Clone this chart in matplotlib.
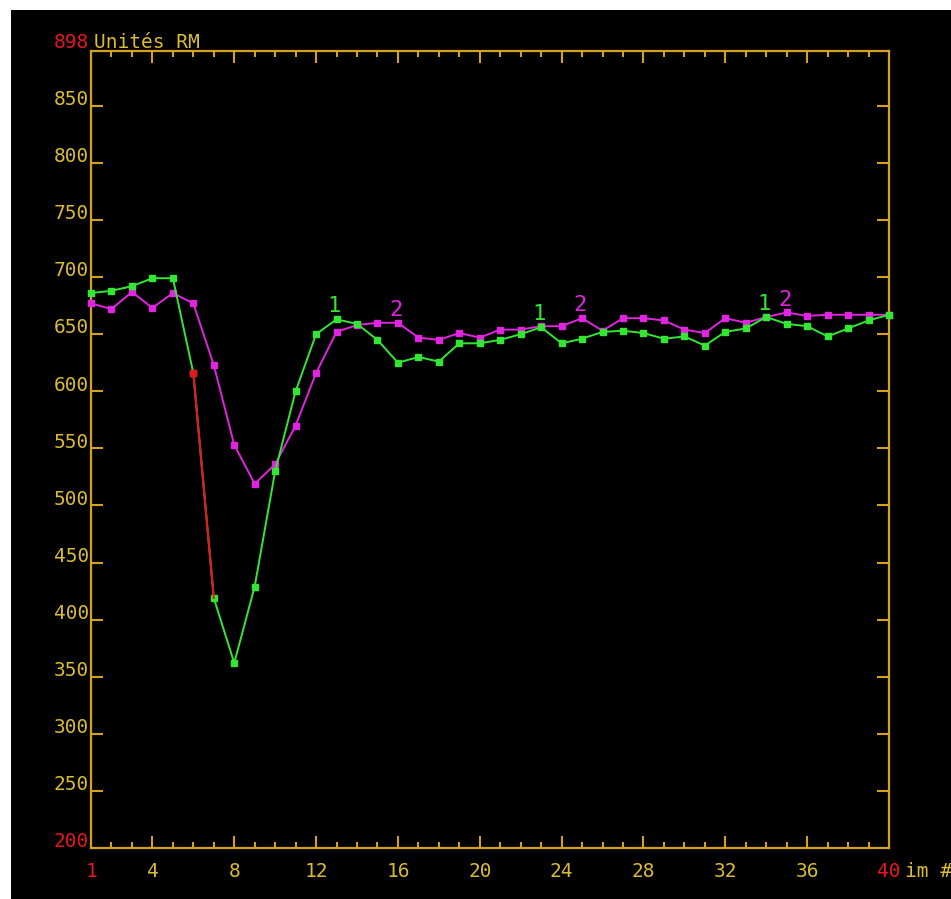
import matplotlib
matplotlib.use("Agg")
import matplotlib.pyplot as plt
from matplotlib.patches import Rectangle
import numpy as np

# ---- data ----
images = list(range(1, 41))
curve1 = [686, 688, 692, 699, 699, 616, 419, 362, 429, 530,
          600, 650, 663, 659, 645, 625, 630, 626, 642, 642,
          645, 650, 656, 642, 646, 652, 653, 651, 646, 648,
          640, 652, 655, 665, 659, 657, 648, 655, 662, 667]
curve2 = [677, 672, 687, 673, 686, 677, 623, 553, 519, 536,
          570, 616, 652, 658, 660, 660, 647, 645, 651, 647,
          654, 654, 657, 657, 664, 653, 664, 664, 662, 654,
          651, 664, 660, 665, 669, 666, 667, 667, 667, 667]
highlight_x = [6, 7]
label1_x = [13, 23, 34]
label2_x = [16, 25, 35]
yticks = [200, 250, 300, 350, 400, 450, 500, 550, 600, 650, 700, 750, 800, 850]
xticks_major = [4, 8, 12, 16, 20, 24, 28, 32, 36]
xmin, xmax = 1, 40
ymin, ymax = 200, 898
ylabel_txt = "Unités RM"
xlabel_txt = "im #"

# ---- style ----
AX = '#d6a21c'
TXT = '#d9bb34'
RED = '#e8141e'
GREEN = '#33e633'
MAG = '#e024e0'
FONT = 'DejaVu Sans Mono'
FS = 14

W, H = 951, 899
fig = plt.figure(figsize=(W / 100, H / 100), dpi=100, facecolor='white')
fig.patches.append(Rectangle((11 / W, 0), 1 - 11 / W, 1 - 10 / H,
                             transform=fig.transFigure, facecolor='black',
                             edgecolor='none', zorder=-10))

left, right, top, bottom = 91, 889, 51, 848
ax = fig.add_axes([left / W, (H - bottom) / H, (right - left) / W, (bottom - top) / H])
ax.set_facecolor('black')
ax.set_xlim(xmin, xmax)
ax.set_ylim(ymin, ymax)
for s in ax.spines.values():
    s.set_color(AX)
    s.set_linewidth(1.6)

minor = [i for i in range(2, 40) if i not in xticks_major]
ax.set_xticks(xticks_major)
ax.set_xticks(minor, minor=True)
ax.set_yticks([t for t in yticks if t > ymin])
ax.tick_params(axis='x', which='major', direction='in', length=8.5, width=1.5,
               color=AX, top=True, bottom=True, labelbottom=False)
ax.tick_params(axis='x', which='minor', direction='in', length=4.5, width=1.5,
               color=AX, top=True, bottom=True)
ax.tick_params(axis='y', which='major', direction='in', length=8.5, width=1.5,
               color=AX, left=True, right=True, labelleft=False)

# y tick labels (bottom of digits at tick value)
for v in yticks:
    col = RED if v == ymin else TXT
    ax.annotate(str(v), xy=(0, v), xycoords=('axes fraction', 'data'),
                xytext=(-1.5, 0.5), textcoords='offset points', ha='right',
                va='baseline', color=col, fontsize=FS, family=FONT,
                annotation_clip=False)
ax.annotate(str(ymax), xy=(0, ymax), xycoords=('axes fraction', 'data'),
            xytext=(-1.5, 2), textcoords='offset points', ha='right',
            va='baseline', color=RED, fontsize=FS, family=FONT,
            annotation_clip=False)
ax.annotate(ylabel_txt, xy=(0, 1), xycoords='axes fraction',
            xytext=(2.5, 2), textcoords='offset points', ha='left',
            va='baseline', color=TXT, fontsize=FS, family=FONT,
            annotation_clip=False)

# x tick labels
xlabels = [xmin] + xticks_major + [xmax]
for v in xlabels:
    col = RED if v in (xmin, xmax) else TXT
    ax.annotate(str(v), xy=(v, 0), xycoords=('data', 'axes fraction'),
                xytext=(0, -10), textcoords='offset points', ha='center',
                va='top', color=col, fontsize=FS, family=FONT,
                annotation_clip=False)
ax.annotate(xlabel_txt, xy=(xmax, 0), xycoords=('data', 'axes fraction'),
            xytext=(11.5, -10), textcoords='offset points', ha='left',
            va='top', color=TXT, fontsize=FS, family=FONT,
            annotation_clip=False)

# curves
ax.plot(images, curve2, color=MAG, lw=1.4, marker='s', ms=3.8, mec=MAG,
        clip_on=False, zorder=3)
ax.plot(images, curve1, color=GREEN, lw=1.4, marker='s', ms=3.8, mec=GREEN,
        clip_on=False, zorder=4)
hy = [curve1[images.index(x)] for x in highlight_x]
ax.plot(highlight_x, hy, color=RED, lw=1.5, zorder=5)
ax.plot(highlight_x[:1], hy[:1], color=RED, marker='s', ms=4.2, ls='none', zorder=6)

# curve number labels
for x in label1_x:
    ax.annotate('1', xy=(x, curve1[images.index(x)]), xytext=(-1.5, 5),
                textcoords='offset points', ha='center', va='baseline',
                color=GREEN, fontsize=16, family=FONT)
for x in label2_x:
    ax.annotate('2', xy=(x, curve2[images.index(x)]), xytext=(-1.5, 5),
                textcoords='offset points', ha='center', va='baseline',
                color=MAG, fontsize=16, family=FONT)

fig.savefig('out.png', dpi=100, facecolor=fig.get_facecolor())
